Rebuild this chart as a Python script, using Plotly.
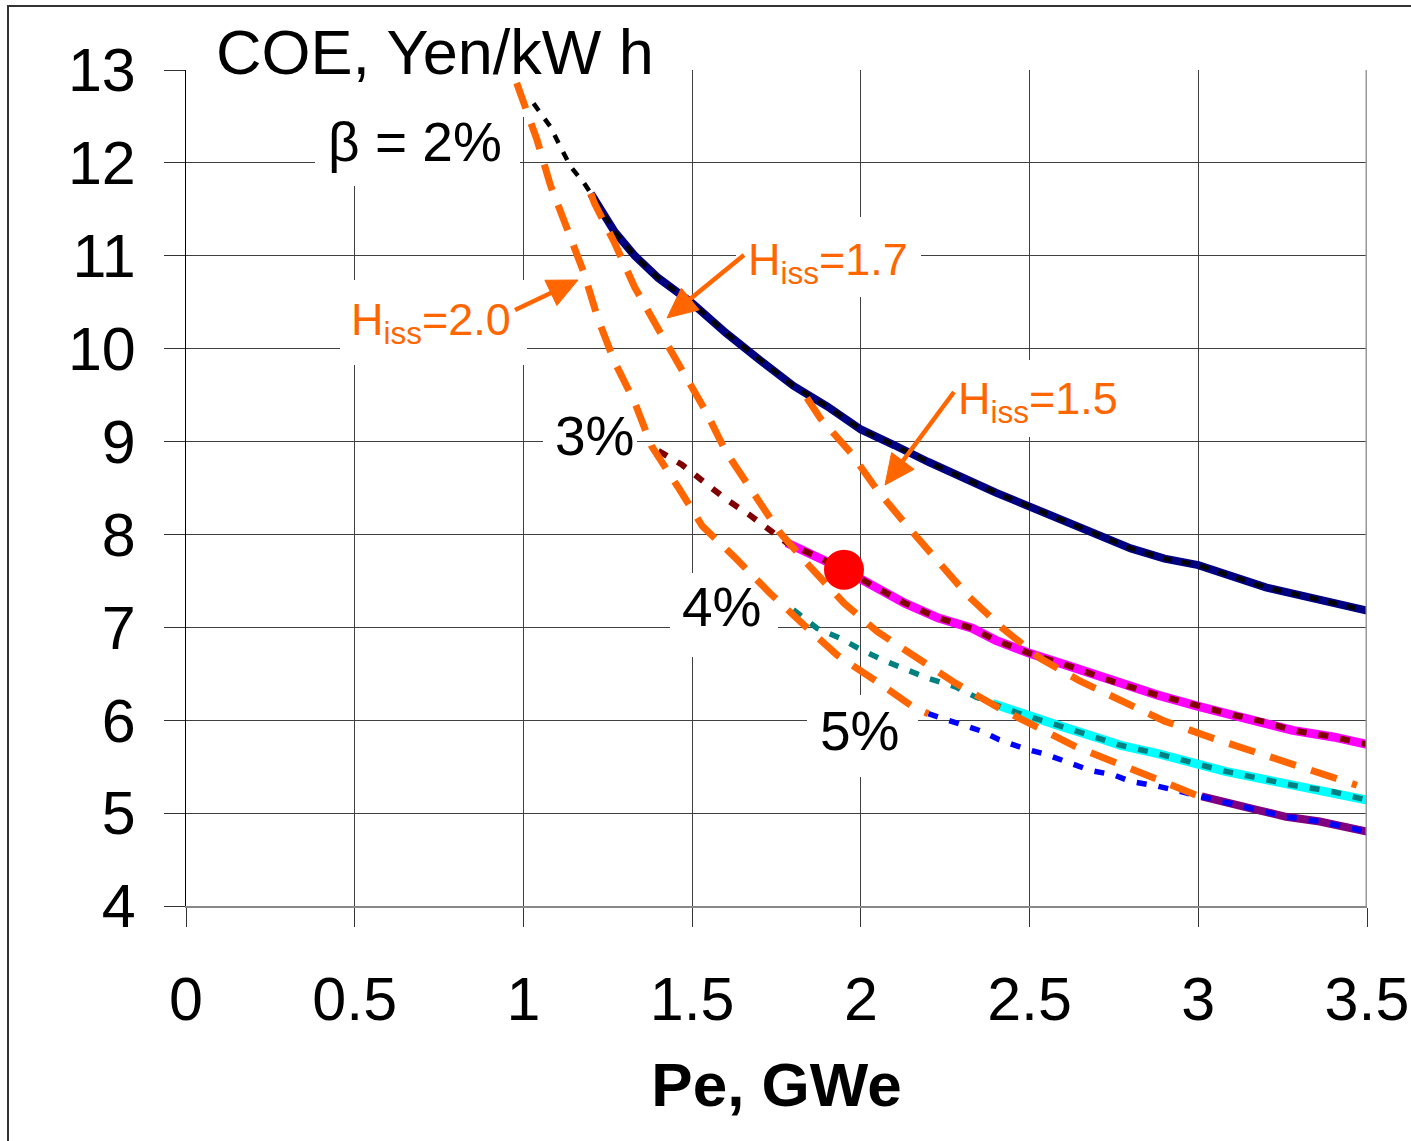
import math
import plotly.graph_objects as go

# ---- data: cost of electricity vs. net electric power ----
# beta = 2 % curve (solid) and its dotted continuation
b2_x = [1.2, 1.27, 1.33, 1.4, 1.5, 1.6, 1.7, 1.8, 1.9, 2.0, 2.1, 2.2, 2.4, 2.6, 2.8, 2.9, 3.0, 3.2, 3.35, 3.5]
b2_y = [11.67, 11.26, 11.0, 10.76, 10.49, 10.17, 9.88, 9.6, 9.38, 9.13, 8.96, 8.78, 8.45, 8.15, 7.85, 7.74, 7.67, 7.43, 7.31, 7.18]
b2_ext_x = [1.03, 1.08, 1.11, 1.14, 1.18]
b2_ext_y = [12.64, 12.39, 12.17, 11.96, 11.78]

# beta = 3 %
b3_x = [1.78, 1.87, 1.95, 2.05, 2.13, 2.23, 2.33, 2.4, 2.5, 2.62, 2.76, 2.88, 3.0, 3.1, 3.2, 3.28, 3.4, 3.5]
b3_y = [7.91, 7.76, 7.62, 7.42, 7.26, 7.1, 6.99, 6.86, 6.72, 6.58, 6.4, 6.27, 6.15, 6.06, 5.98, 5.89, 5.82, 5.74]
b3_ext_x = [1.4, 1.47, 1.53, 1.6, 1.67, 1.73]
b3_ext_y = [8.9, 8.75, 8.58, 8.38, 8.21, 8.05]

# beta = 4 %
b4_x = [2.39, 2.48, 2.58, 2.72, 2.77, 2.88, 3.0, 3.08, 3.2, 3.28, 3.4, 3.5]
b4_y = [6.18, 6.06, 5.95, 5.79, 5.73, 5.64, 5.52, 5.45, 5.36, 5.3, 5.23, 5.14]
b4_ext_x = [1.8, 1.87, 1.94, 2.0, 2.07, 2.14, 2.2, 2.28, 2.34]
b4_ext_y = [7.19, 6.99, 6.88, 6.76, 6.64, 6.54, 6.45, 6.36, 6.25]

# beta = 5 %
b5_x = [3.01, 3.08, 3.18, 3.26, 3.36, 3.5]
b5_y = [5.18, 5.11, 5.03, 4.96, 4.91, 4.8]
b5_ext_x = [2.2, 2.28, 2.36, 2.41, 2.48, 2.55, 2.6, 2.68, 2.75, 2.8, 2.88, 2.95]
b5_ext_y = [6.07, 5.97, 5.88, 5.79, 5.7, 5.63, 5.57, 5.46, 5.41, 5.34, 5.29, 5.23]

# constant-H_iss lines
h20_x = [0.98, 1.04, 1.08, 1.13, 1.18, 1.22, 1.27, 1.33, 1.38, 1.46, 1.53, 1.63, 1.73, 1.83, 1.93, 2.05, 2.16, 2.2]
h20_y = [12.86, 12.25, 11.76, 11.28, 10.81, 10.33, 9.86, 9.42, 8.95, 8.5, 8.09, 7.74, 7.37, 7.03, 6.7, 6.41, 6.13, 6.07]
h17_x = [1.2, 1.21, 1.27, 1.33, 1.4, 1.47, 1.54, 1.6, 1.68, 1.76, 1.85, 1.95, 2.05, 2.16, 2.28, 2.4, 2.52, 2.64, 2.75, 2.9, 3.01]
h17_y = [11.67, 11.57, 11.14, 10.66, 10.21, 9.77, 9.33, 8.89, 8.46, 8.02, 7.65, 7.26, 6.95, 6.68, 6.4, 6.15, 5.92, 5.71, 5.55, 5.34, 5.17]
h15_x = [1.84, 1.88, 1.97, 2.05, 2.14, 2.23, 2.32, 2.42, 2.53, 2.65, 2.75, 2.9, 3.04, 3.17, 3.3, 3.43, 3.47]
h15_y = [9.47, 9.25, 8.88, 8.47, 8.08, 7.7, 7.33, 6.99, 6.67, 6.42, 6.24, 5.99, 5.81, 5.66, 5.5, 5.36, 5.3]

# design point
design_x = [1.95]
design_y = [7.62]

x_ticks = [0, 0.5, 1, 1.5, 2, 2.5, 3, 3.5]
x_tick_text = ["0", "0.5", "1", "1.5", "2", "2.5", "3", "3.5"]
y_ticks = [4, 5, 6, 7, 8, 9, 10, 11, 12, 13]

# ---- geometry helpers (plot area in pixels) ----
W, H = 1411, 1141
L, R, T, B = 186, 1367, 70, 906
X0, X1, Y0, Y1 = 0.0, 3.5, 4.0, 13.0


def px_x(px):
    return X0 + (px - L) / (R - L) * (X1 - X0)


def px_y(py):
    return Y1 - (py - T) / (B - T) * (Y1 - Y0)


def paper_x(px):
    return (px - L) / (R - L)


def paper_y(py):
    return (B - py) / (B - T)


ORANGE = "#FF6600"
FONT = "Liberation Sans, Arial, sans-serif"

fig = go.Figure()


def line(x, y, color, width, dash="solid"):
    fig.add_trace(go.Scatter(x=x, y=y, mode="lines", hoverinfo="skip",
                             line=dict(color=color, width=width, dash=dash)))


# beta = 2 %
line(b2_x, b2_y, "#000080", 8)
line(b2_ext_x + b2_x, b2_ext_y + b2_y, "black", 4.5, "9px,10px")
# beta = 3 %
line(b3_x, b3_y, "#FF00FF", 9)
line(b3_ext_x + b3_x, b3_ext_y + b3_y, "#800000", 6, "10px,12px")
# beta = 4 %
line(b4_x, b4_y, "#00FFFF", 9)
line(b4_ext_x + b4_x, b4_ext_y + b4_y, "#008080", 5.5, "10px,12px")
# beta = 5 %
line(b5_x, b5_y, "#800080", 8)
line(b5_ext_x + b5_x, b5_ext_y + b5_y, "#0000FF", 5.5, "10px,12px")
# H_iss lines
for hx, hy in ((h20_x, h20_y), (h17_x, h17_y), (h15_x, h15_y)):
    line(hx, hy, ORANGE, 7, "27px,16px")

fig.add_trace(go.Scatter(x=design_x, y=design_y, mode="markers", hoverinfo="skip",
                         marker=dict(color="#FF0000", size=40, line=dict(width=0))))

# white label boxes that interrupt the grid
boxes = [
    (203, 20, 672, 117),   # COE title
    (315, 110, 520, 186),  # beta = 2 %
    (340, 280, 527, 365),  # H_iss = 2.0
    (736, 217, 921, 297),  # H_iss = 1.7
    (945, 360, 1127, 437),  # H_iss = 1.5
    (543, 405, 637, 472),  # 3 %
    (670, 573, 778, 657),  # 4 %
    (807, 695, 918, 777),  # 5 %
]
shapes = []
for x0, y0, x1, y1 in boxes:
    shapes.append(dict(type="rect", xref="x", yref="y", layer="between",
                       x0=px_x(x0), x1=px_x(x1), y0=px_y(y1), y1=px_y(y0),
                       fillcolor="white", line=dict(width=0)))
# the title box also breaks the top border of the plot area
shapes.append(dict(type="rect", xref="paper", yref="paper", layer="above",
                   x0=paper_x(203), x1=paper_x(672), y0=paper_y(75), y1=paper_y(64),
                   fillcolor="white", line=dict(width=0)))
# right frame of the plot area
shapes.append(dict(type="line", xref="x", yref="y", layer="above",
                   x0=3.5, x1=3.5, y0=4, y1=13, line=dict(color="#999999", width=3)))
# outer chart frame
shapes.append(dict(type="rect", xref="paper", yref="paper", layer="below",
                   x0=paper_x(8), x1=paper_x(1500), y0=paper_y(1300), y1=paper_y(6),
                   fillcolor="rgba(0,0,0,0)", line=dict(color="#333333", width=2)))


def arrow(tail, tip, head_len=30, head_half=14, width=4.5):
    """Callout arrow drawn as a shaft plus a filled triangular head (pixel geometry)."""
    dx, dy = tip[0] - tail[0], tip[1] - tail[1]
    n = math.hypot(dx, dy)
    ux, uy = dx / n, dy / n
    bx, by = tip[0] - head_len * ux, tip[1] - head_len * uy
    shapes.append(dict(type="line", xref="x", yref="y", layer="above",
                       x0=px_x(tail[0]), y0=px_y(tail[1]),
                       x1=px_x(bx + 4 * ux), y1=px_y(by + 4 * uy),
                       line=dict(color=ORANGE, width=width)))
    p1 = (px_x(tip[0]), px_y(tip[1]))
    p2 = (px_x(bx - head_half * uy), px_y(by + head_half * ux))
    p3 = (px_x(bx + head_half * uy), px_y(by - head_half * ux))
    path = "M {} {} L {} {} L {} {} Z".format(p1[0], p1[1], p2[0], p2[1], p3[0], p3[1])
    shapes.append(dict(type="path", xref="x", yref="y", layer="above", path=path,
                       fillcolor=ORANGE, line=dict(color=ORANGE, width=1)))


arrow((515, 310), (578, 280))
arrow((744, 255), (667, 318))
arrow((954, 392), (885, 485))

annotations = []


def label(text, cx, cy, size, color="black", ref="data"):
    if ref == "data":
        pos = dict(x=px_x(cx), y=px_y(cy), xref="x", yref="y")
    else:
        pos = dict(x=paper_x(cx), y=paper_y(cy), xref="paper", yref="paper")
    annotations.append(dict(text=text, showarrow=False, xanchor="center", yanchor="middle",
                            font=dict(family=FONT, size=size, color=color), **pos))


label("COE, Yen/kW h", 435, 52, 63, ref="paper")
label("\u03b2 = 2%", 415, 142, 55)
label("3%", 595, 436, 55)
label("4%", 722, 607, 55)
label("5%", 860, 731, 55)
label("H<sub>iss</sub>=2.0", 431, 322, 45, ORANGE)
label("H<sub>iss</sub>=1.7", 828, 262, 45, ORANGE)
label("H<sub>iss</sub>=1.5", 1038, 401, 45, ORANGE)

fig.update_layout(
    width=W, height=H,
    margin=dict(l=L, r=W - R, t=T, b=H - B, pad=0, autoexpand=False),
    paper_bgcolor="white", plot_bgcolor="white",
    showlegend=False,
    font=dict(family=FONT, color="black"),
    shapes=shapes, annotations=annotations,
    xaxis=dict(range=[X0, X1], tickvals=x_ticks, ticktext=x_tick_text, automargin=False,
               showgrid=True, gridcolor="#404040", gridwidth=1, zeroline=False,
               ticks="outside", ticklen=19, tickwidth=1, tickcolor="#333333",
               showline=True, linecolor="#888888", linewidth=2,
               tickfont=dict(family=FONT, size=61, color="black"),
               ticklabelstandoff=20,
               title=dict(text="<b>Pe, GWe</b>", standoff=30,
                          font=dict(family=FONT, size=62, color="black"))),
    yaxis=dict(range=[Y0, Y1], tickvals=y_ticks, automargin=False,
               showgrid=True, gridcolor="#404040", gridwidth=1, zeroline=False,
               ticks="outside", ticklen=21, tickwidth=1, tickcolor="#333333",
               showline=True, linecolor="black", linewidth=1,
               tickfont=dict(family=FONT, size=61, color="black"),
               ticklabelstandoff=16),
)

fig.write_html("out.html")
